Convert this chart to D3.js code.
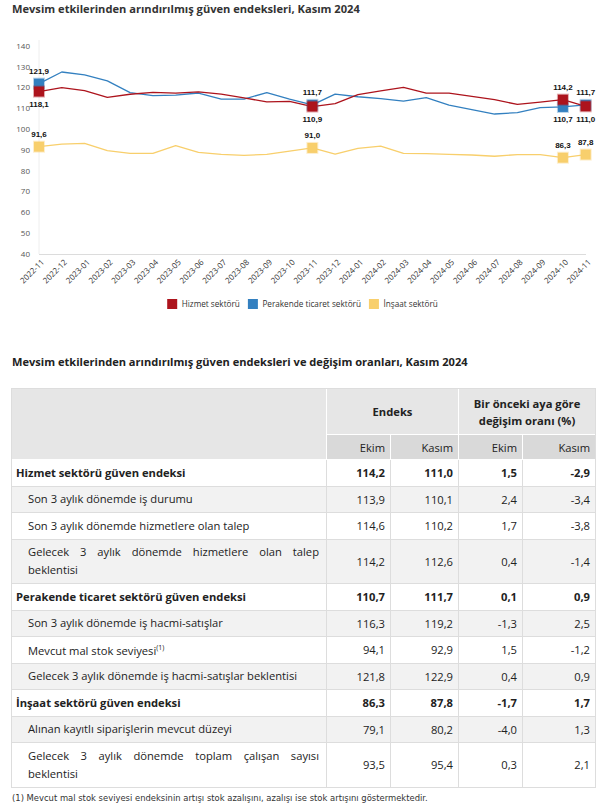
<!DOCTYPE html>
<html><head><meta charset="utf-8">
<script src="https://cdn.jsdelivr.net/npm/d3@7"></script>
<style>
body{margin:0;background:#fff;width:600px;height:807px;position:relative;overflow:hidden;font-family:"Open Sans",sans-serif;color:#222;}
#chart{position:absolute;left:0;top:0;}
#tbl{position:absolute;left:0;top:0;}
.cell{position:absolute;box-sizing:border-box;font-size:11.2px;display:flex;align-items:center;}
.txt{width:100%;}
</style></head><body>
<svg id="chart" width="600" height="330"></svg>
<div id="tbl"></div>
<script>
// ---------- chart data ----------
const months = ["2022-11","2022-12","2023-01","2023-02","2023-03","2023-04","2023-05","2023-06","2023-07","2023-08","2023-09","2023-10","2023-11","2023-12","2024-01","2024-02","2024-03","2024-04","2024-05","2024-06","2024-07","2024-08","2024-09","2024-10","2024-11"];
const hizmet    = [118.1,120.0,118.5,115.3,116.8,117.7,117.3,117.9,116.9,115.1,113.1,113.4,110.9,112.3,116.6,118.4,120.1,117.3,117.3,115.8,114.2,111.9,113.0,114.2,111.0];
const perakende = [121.9,127.5,126.1,123.2,117.6,116.1,116.4,117.4,114.5,114.5,117.6,114.5,111.7,116.9,115.6,114.7,113.5,115.2,111.6,109.4,107.3,108.0,110.4,110.7,111.7];
const insaat    = [91.6,92.8,93.2,89.7,88.4,88.4,92.1,88.9,87.9,87.4,87.9,89.5,91.0,88.0,90.8,91.9,88.4,88.3,87.9,87.6,87.0,87.8,87.8,86.3,87.8];
const seriesNames = ["Hizmet sektörü","Perakende ticaret sektörü","İnşaat sektörü"];
const seriesColors = ["#ad141d","#3380c0","#f8cf6c"];
const labeledIdx = [0,12,23,24];
const yTicks = [40,50,60,70,80,90,100,110,120,130,140];

// ---------- table data ----------
const rowLabels = [
 "Hizmet sektörü güven endeksi",
 "Son 3 aylık dönemde iş durumu",
 "Son 3 aylık dönemde hizmetlere olan talep",
 "Gelecek 3 aylık dönemde hizmetlere olan talep beklentisi",
 "Perakende ticaret sektörü güven endeksi",
 "Son 3 aylık dönemde iş hacmi-satışlar",
 "Mevcut mal stok seviyesi",
 "Gelecek 3 aylık dönemde iş hacmi-satışlar beklentisi",
 "İnşaat sektörü güven endeksi",
 "Alınan kayıtlı siparişlerin mevcut düzeyi",
 "Gelecek 3 aylık dönemde toplam çalışan sayısı beklentisi"];
const rowBold = [true,false,false,false,true,false,false,false,true,false,false];
const rowNote = ["","","","","","","(1)","","","",""];
const ekimEndeks  = [114.2,113.9,114.6,114.2,110.7,116.3,94.1,121.8,86.3,79.1,93.5];
const kasimEndeks = [111.0,110.1,110.2,112.6,111.7,119.2,92.9,122.9,87.8,80.2,95.4];
const ekimDegisim = [1.5,2.4,1.7,0.4,0.1,-1.3,1.5,0.4,-1.7,-4.0,0.3];
const kasimDegisim= [-2.9,-3.4,-3.8,-1.4,0.9,2.5,-1.2,0.9,1.7,1.3,2.1];
const headerTop = ["Endeks","Bir önceki aya göre değişim oranı (%)"];
const headerSub = ["Ekim","Kasım","Ekim","Kasım"];
const chartTitle = "Mevsim etkilerinden arındırılmış güven endeksleri, Kasım 2024";
const tableTitle = "Mevsim etkilerinden arındırılmış güven endeksleri ve değişim oranları, Kasım 2024";
const footnote = "(1) Mevcut mal stok seviyesi endeksinin artışı stok azalışını, azalışı ise stok artışını göstermektedir.";

const loc = d3.formatLocale({decimal:",",thousands:".",grouping:[3],currency:["","TL"],minus:"-"});
const f1 = loc.format(".1f");

// ---------- chart ----------
const svg = d3.select("#chart");
const x = d3.scalePoint().domain(months).range([39,585.7]);
const y = d3.scaleLinear().domain([40,140]).range([254,46]);

const tt = svg.append("text").attr("x",12).attr("y",13).attr("font-family","Open Sans, sans-serif")
  .attr("font-weight","bold").attr("font-size",10).attr("fill","#333").text(chartTitle);
tt.attr("font-size", 10*348/tt.node().getComputedTextLength());

// axes lines
svg.append("line").attr("x1",39).attr("x2",39).attr("y1",y(140)-6).attr("y2",y(40)).attr("stroke","#eeeeee");
svg.append("line").attr("x1",39).attr("x2",586).attr("y1",y(40)+0.5).attr("y2",y(40)+0.5).attr("stroke","#dcdcdc");

// y ticks
svg.append("g").selectAll("text").data(yTicks).join("text")
  .attr("x",30).attr("y",d=>y(d)).attr("dy","0.35em").attr("text-anchor","end")
  .attr("font-size",8).attr("fill","#555").attr("font-family","Open Sans, sans-serif").text(d=>d);

// x labels
svg.append("g").selectAll("text").data(months).join("text")
  .attr("transform",d=>`translate(${x(d)+3},${260}) rotate(-45)`)
  .attr("text-anchor","end").attr("dy","0.5em")
  .attr("font-size",8).attr("fill","#333").attr("font-family","Open Sans, sans-serif").text(d=>d);

const data = [hizmet, perakende, insaat];
const line = d3.line().x((d,i)=>x(months[i])).y(d=>y(d));
[2,1,0].forEach(s=>{
  svg.append("path").datum(data[s]).attr("d",line).attr("fill","none")
    .attr("stroke",seriesColors[s]).attr("stroke-width",1.3).attr("stroke-linejoin","round");
});
[2,1,0].forEach(s=>{
  svg.append("g").selectAll("rect").data(labeledIdx).join("rect")
    .attr("x",i=>x(months[i])-5).attr("y",i=>y(data[s][i])-5).attr("width",10).attr("height",10)
    .attr("fill",seriesColors[s]).attr("stroke",seriesColors[s]).attr("stroke-opacity",0.35).attr("stroke-width",2);
});
[0,1,2].forEach(s=>{
  svg.append("g").selectAll("text").data(labeledIdx).join("text")
    .attr("x",i=>x(months[i]))
    .attr("y",i=>{
      let above = true;
      if(s<2){ const other = data[1-s][i]; above = data[s][i] >= other; }
      return y(data[s][i]) + (above ? -12.5 : 12.5);
    })
    .attr("dy","0.35em").attr("text-anchor","middle").attr("font-weight","bold")
    .attr("font-size",8).attr("fill","#111").attr("font-family","Liberation Sans, Arial, sans-serif")
    .text(i=>f1(data[s][i]));
});

// legend
const lg = svg.append("g");
let lx = 0;
seriesNames.forEach((n,s)=>{
  const g = lg.append("g").attr("transform",`translate(${lx},0)`);
  g.append("rect").attr("x",0).attr("y",-5).attr("width",10).attr("height",10).attr("fill",seriesColors[s]);
  const t = g.append("text").attr("x",14.5).attr("y",0).attr("dy","0.35em").attr("font-size",8.2)
    .attr("fill","#333").attr("font-family","Open Sans, sans-serif").text(n);
  lx += 14.5 + t.node().getComputedTextLength() + 8;
});
const lw = lx - 8;
lg.attr("transform",`translate(${302.5 - lw/2},304)`);

// ---------- table ----------
const tbl = d3.select("#tbl");
function fitDiv(sel, base, target){
  const sp = sel.append("span").style("font-size",base+"px");
  return sp;
}
const ttl = tbl.append("div").style("position","absolute").style("left","12px").style("top","354px")
  .style("font-weight","700").style("white-space","nowrap").style("color","#222").style("font-size","11px").text(tableTitle);
ttl.style("font-size", (11*456/ttl.node().getBoundingClientRect().width)+"px");

const colX = [12,327,391,459,523,596];
const hTop = 389, hMid = 435, hBot = 460;
const rowH = rowLabels.map((d,i)=> (i===3||i===10) ? 44.5 : 26.5);
const rowY = []; let acc = hBot; rowH.forEach(h=>{rowY.push(acc); acc+=h;});
const tableBottom = acc;

function cell(x0,y0,w,h,bg,border){
  return tbl.append("div").attr("class","cell")
    .style("left",x0+"px").style("top",y0+"px").style("width",w+"px").style("height",h+"px")
    .style("background",bg).style("border-right","1px solid "+border).style("border-bottom","1px solid "+border);
}
// header
cell(colX[0],hTop,colX[1]-colX[0],hBot-hTop,"#e6e6e6","#ffffff");
cell(colX[1],hTop,colX[3]-colX[1],hMid-hTop,"#e6e6e6","#ffffff")
  .style("justify-content","center").style("font-weight","700").style("font-size","11.2px").append("div").text(headerTop[0]);
cell(colX[3],hTop,colX[5]-colX[3],hMid-hTop,"#e6e6e6","#ffffff")
  .style("justify-content","center").style("font-weight","700").style("font-size","11.2px")
  .append("div").style("text-align","center").style("line-height","17px").style("padding","0 6px").text(headerTop[1]);
headerSub.forEach((t,j)=>{
  cell(colX[j+1],hMid,colX[j+2]-colX[j+1],hBot-hMid,"#d9d9d9","#ffffff")
    .style("justify-content","flex-end").style("padding-right","5px").text(t);
});
// body
const vals = [ekimEndeks,kasimEndeks,ekimDegisim,kasimDegisim];
let subCount = 0;
rowLabels.forEach((lab,i)=>{
  let bg = "#ffffff";
  if(!rowBold[i]){ bg = (subCount%2===0) ? "#f2f2f2" : "#ffffff"; subCount++; } else subCount = 0;
  const c = cell(colX[0],rowY[i],colX[1]-colX[0],rowH[i],bg,"#dddddd")
    .style("padding", rowBold[i] ? "0 6px 0 4px" : "0 7px 0 16px");
  const d = c.append("div").attr("class","txt").style("font-weight",rowBold[i]?"700":"400")
    .style("text-align","justify").style("line-height","18px");
  d.text(lab);
  if(rowNote[i]) d.append("sup").style("font-size","7px").text(rowNote[i]);
  vals.forEach((arr,j)=>{
    cell(colX[j+1],rowY[i],colX[j+2]-colX[j+1],rowH[i],bg,"#dddddd")
      .style("justify-content","flex-end").style("padding-right","5px")
      .style("font-weight",rowBold[i]?"700":"400").text(f1(arr[i]));
  });
});
// outer border
tbl.append("div").style("position","absolute").style("left",(colX[0]-1)+"px").style("top",(hTop-1)+"px")
  .style("width",(colX[5]-colX[0]+1)+"px").style("height",(tableBottom-hTop+1)+"px")
  .style("box-sizing","border-box").style("border","1px solid #dddddd").style("pointer-events","none");

const fn = tbl.append("div").style("position","absolute").style("left","12px").style("top","793px")
  .style("font-size","8px").style("white-space","nowrap").style("color","#333")
  .style("font-family","DejaVu Sans, sans-serif").text(footnote);
fn.style("font-size", (8*416/fn.node().getBoundingClientRect().width)+"px");
</script>
</body></html>
